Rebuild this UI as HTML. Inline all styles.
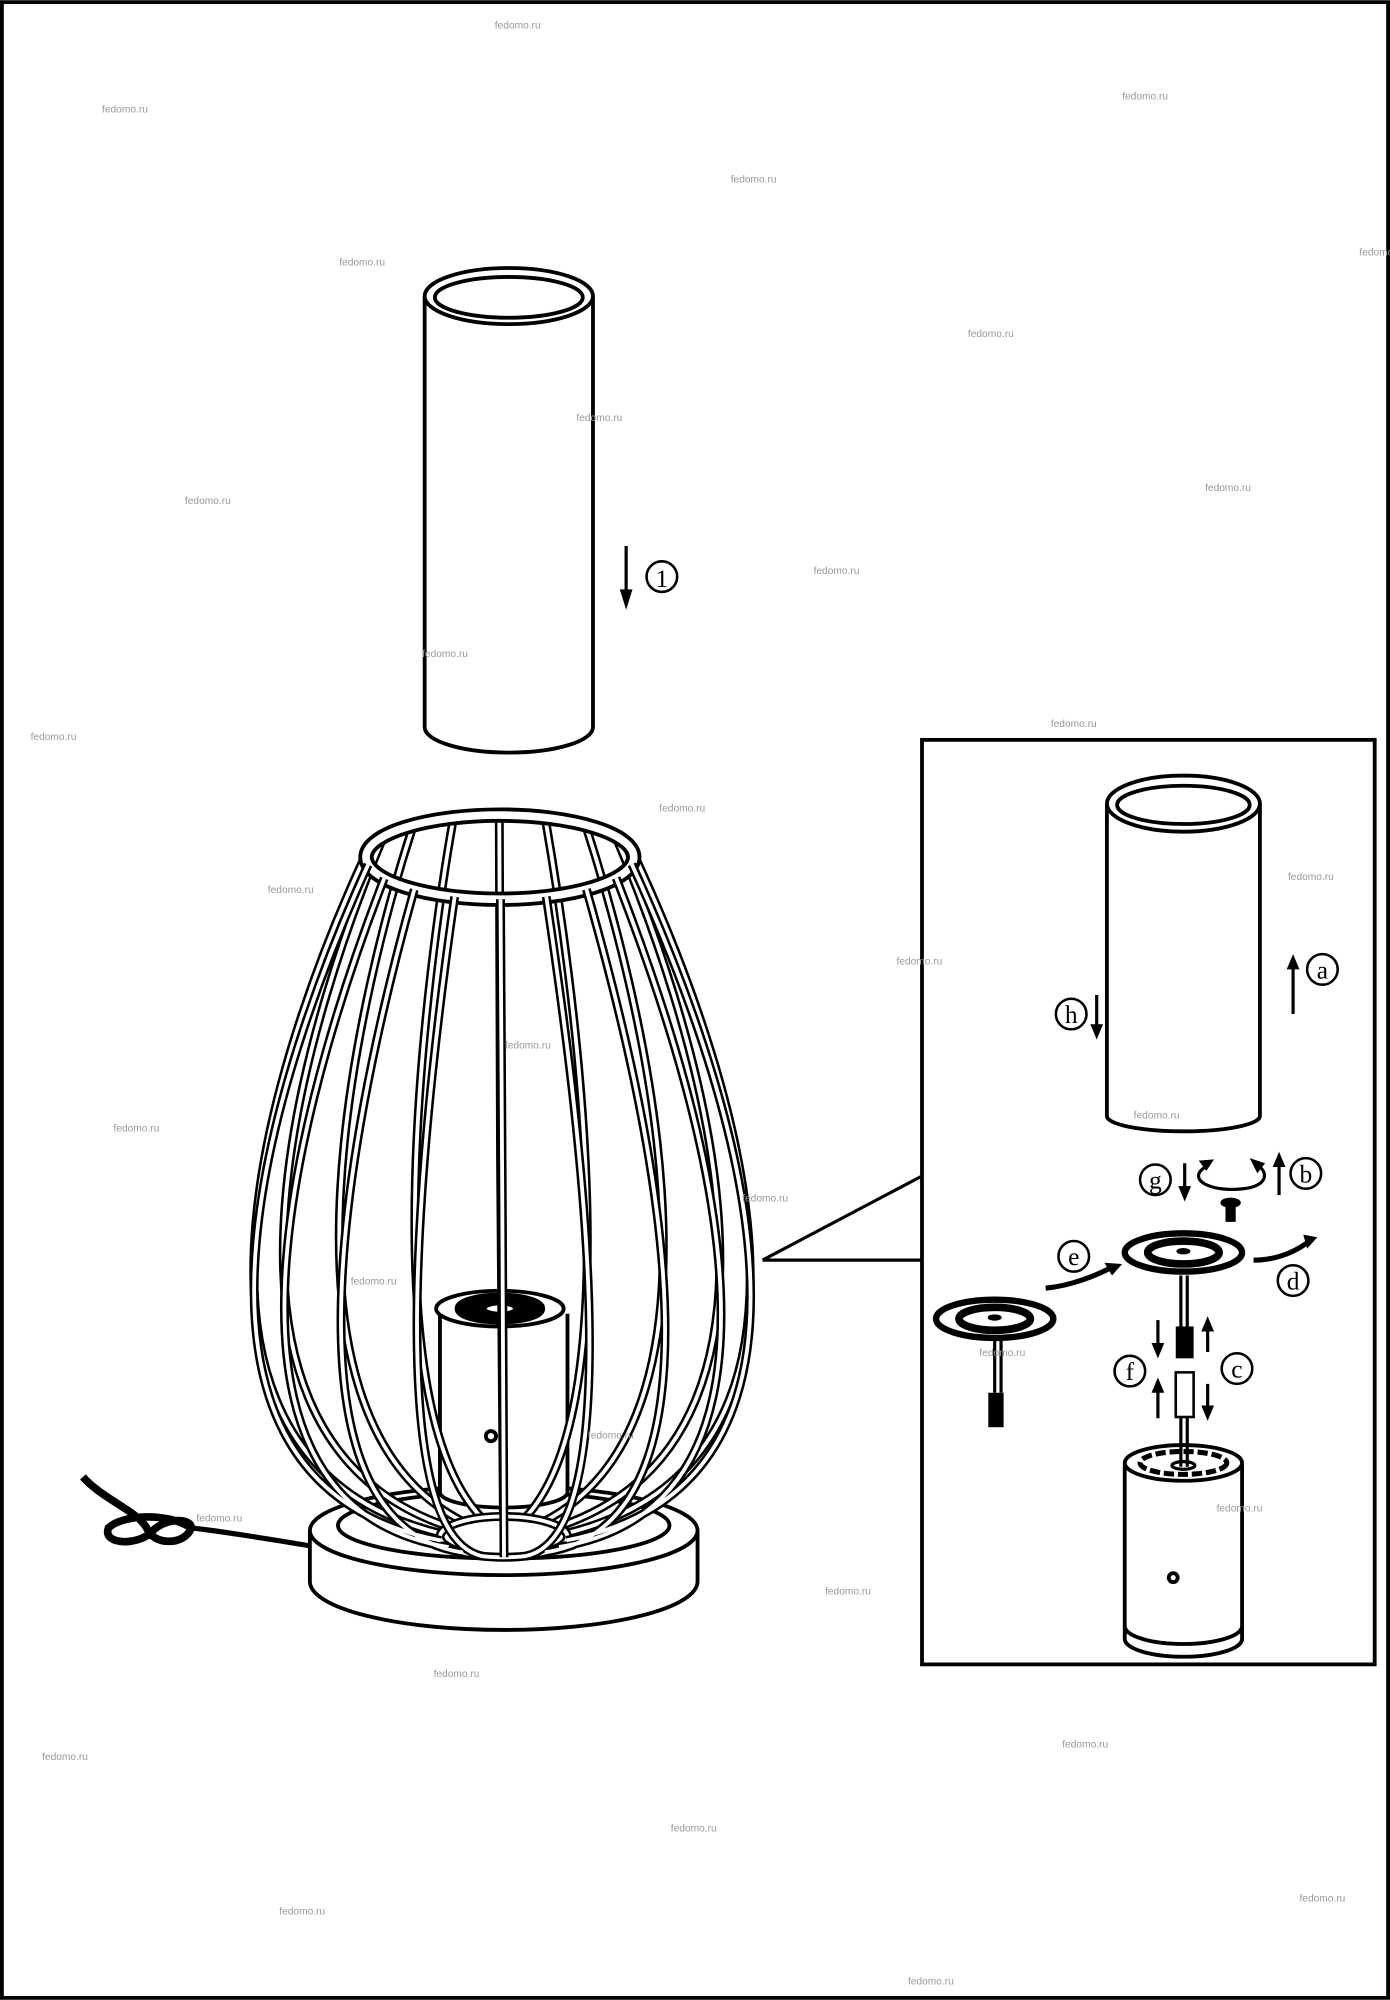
<!DOCTYPE html>
<html><head><meta charset="utf-8"><style>
html,body{margin:0;padding:0;background:#fff}
svg{display:block}
.wm{font-family:"Liberation Sans",sans-serif;font-size:8px;fill:#999}
.lb{font-family:"Liberation Serif",serif;font-size:20px;text-anchor:middle}
</style></head><body>
<svg id="s" width="1390" height="2000" viewBox="0 0 1090 1568" xmlns="http://www.w3.org/2000/svg">
<rect x="1.5" y="1.5" width="1087" height="1565" fill="#fff" stroke="#000" stroke-width="3"/>
<g fill="none" stroke="#000" stroke-width="3">
<path d="M333 232 V570 A66 20 0 0 0 465 570 V232" fill="#fff"/>
<ellipse cx="399" cy="232" rx="66" ry="22" fill="#fff"/>
<ellipse cx="399" cy="233" rx="58" ry="16"/>
<path d="M491 428 V470" stroke-width="2.5"/>
</g>
<path d="M486 462 L491 478 L496 462Z"/>
<circle cx="519" cy="452" r="12" fill="none" stroke="#000" stroke-width="2"/>
<text x="519" y="460" class="lb" font-size="18">1</text>

<g stroke="#000" stroke-width="3" fill="#fff">
<path d="M243 1200 V1240 A152 38 0 0 0 547 1240 V1200"/>
<ellipse cx="395" cy="1200" rx="152" ry="35"/>
<ellipse cx="395" cy="1196" rx="130" ry="26"/>
</g>
<path d="M243 1212 C200 1205 170 1200 150 1198" stroke="#000" stroke-width="4" fill="none"/>
<path d="M150 1198 C130 1185 95 1188 85 1198 C80 1212 110 1212 120 1200 C130 1190 150 1190 150 1198 C145 1212 120 1212 115 1198 C108 1185 80 1175 65 1158" stroke="#000" stroke-width="6" fill="none"/>
<g stroke="#000" stroke-width="3" fill="#fff">
<path d="M345 1030 V1170 A50 12 0 0 0 445 1170 V1030"/>
<ellipse cx="392" cy="1026" rx="50" ry="14" fill="#fff"/>
<ellipse cx="392" cy="1026" rx="32" ry="9" stroke-width="7" fill="#000"/>
<ellipse cx="392" cy="1026" rx="12" ry="4" fill="#fff"/>
<circle cx="385" cy="1126" r="4"/>
</g>
<g id="cage"></g>

<path d="M598 988 L723 922" stroke="#000" stroke-width="2.5" fill="none"/>
<path d="M598 988 L723 988" stroke="#000" stroke-width="2.5" fill="none"/>
<rect x="723" y="580" width="355" height="725" fill="#fff" stroke="#000" stroke-width="3"/>
<g fill="#fff" stroke="#000" stroke-width="3">
<path d="M868 630 V875 A60 12 0 0 0 988 875 V630"/>
<ellipse cx="928" cy="630" rx="60" ry="22"/>
<ellipse cx="928" cy="631" rx="52" ry="15"/>
<path d="M882 1148 V1285 A46 14 0 0 0 974 1285 V1148"/>
<path d="M882 1275 A46 14 0 0 0 974 1275" fill="none"/>
<ellipse cx="928" cy="1147" rx="46" ry="14"/>
<circle cx="920" cy="1237" r="3.5"/>
</g>
<g fill="none" stroke="#000" stroke-width="2.5">
<ellipse cx="928" cy="1147" rx="34" ry="9" stroke-dasharray="8 3" stroke-width="4"/>
<ellipse cx="928" cy="1149" rx="9" ry="3"/>
<path d="M926 1000 V1040 M931 1000 V1040 M926 1082 V1150 M931 1082 V1150"/>
<path d="M780 1050 V1092 M785 1050 V1092"/>
</g>
<g stroke="#000">
<ellipse cx="928" cy="982" rx="46" ry="15" fill="#fff" stroke-width="5"/>
<ellipse cx="928" cy="982" rx="28" ry="9" fill="none" stroke-width="6"/>
<ellipse cx="928" cy="981" rx="5" ry="2"/>
<ellipse cx="780" cy="1034" rx="46" ry="15" fill="#fff" stroke-width="5"/>
<ellipse cx="780" cy="1034" rx="28" ry="9" fill="none" stroke-width="6"/>
<ellipse cx="780" cy="1033" rx="5" ry="2"/>
</g>
<rect x="922" y="1040" width="14" height="25"/>
<rect x="922" y="1076" width="14" height="35" fill="#fff" stroke="#000" stroke-width="2"/>
<rect x="775" y="1092" width="12" height="27"/>
<rect x="961" y="944" width="8" height="14"/>
<ellipse cx="965" cy="943" rx="8" ry="4"/>
<g fill="none" stroke="#000" stroke-width="2.5">
<path d="M1014 795 V755"/><path d="M860 780 V810"/>
<path d="M929 912 V938"/><path d="M1003 937 V910"/>
<path d="M945 915 C930 925 950 935 975 932 C995 930 995 918 985 913"/>
<path d="M908 1035 V1060 M908 1112 V1085 M947 1060 V1035 M947 1085 V1110"/>
<path d="M820 1010 C840 1008 860 1000 873 993" stroke-width="4"/>
<path d="M983 988 C1000 988 1015 982 1027 973" stroke-width="4"/>
</g>
<g>
<path d="M1009 760 L1014 748 L1019 760Z"/><path d="M855 803 L860 815 L865 803Z"/>
<path d="M924 930 L929 942 L934 930Z"/><path d="M998 915 L1003 903 L1008 915Z"/>
<path d="M940 910 L952 909 L946 918Z"/><path d="M980 908 L992 912 L986 920Z"/>
<path d="M903 1053 L908 1065 L913 1053Z"/><path d="M903 1092 L908 1080 L913 1092Z"/>
<path d="M942 1044 L947 1032 L952 1044Z"/><path d="M942 1102 L947 1114 L952 1102Z"/>
<path d="M866 990 L880 991 L872 1000Z"/><path d="M1022 968 L1033 970 L1025 979Z"/>
</g>
<g fill="#fff" stroke="#000" stroke-width="2">
<circle cx="1037" cy="760" r="12"/><circle cx="840" cy="795" r="12"/>
<circle cx="906" cy="925" r="12"/><circle cx="1024" cy="920" r="12"/>
<circle cx="842" cy="985" r="12"/><circle cx="1014" cy="1004" r="12"/>
<circle cx="886" cy="1075" r="12"/><circle cx="970" cy="1073" r="12"/>
</g>
<text class="lb" x="1037" y="767">a</text><text class="lb" x="840" y="802">h</text>
<text class="lb" x="906" y="932">g</text><text class="lb" x="1024" y="927">b</text>
<text class="lb" x="842" y="992">e</text><text class="lb" x="1014" y="1011">d</text>
<text class="lb" x="886" y="1082">f</text><text class="lb" x="970" y="1080">c</text>

<g class="wm">
<text x="388" y="22">fedomo.ru</text><text x="80" y="88">fedomo.ru</text><text x="880" y="78">fedomo.ru</text>
<text x="573" y="143">fedomo.ru</text><text x="266" y="208">fedomo.ru</text><text x="1066" y="200">fedomo.ru</text>
<text x="759" y="264">fedomo.ru</text><text x="452" y="330">fedomo.ru</text><text x="145" y="395">fedomo.ru</text>
<text x="945" y="385">fedomo.ru</text><text x="638" y="450">fedomo.ru</text><text x="331" y="515">fedomo.ru</text>
<text x="24" y="580">fedomo.ru</text><text x="824" y="570">fedomo.ru</text><text x="517" y="636">fedomo.ru</text>
<text x="210" y="700">fedomo.ru</text><text x="1010" y="690">fedomo.ru</text><text x="703" y="756">fedomo.ru</text>
<text x="396" y="822">fedomo.ru</text><text x="89" y="887">fedomo.ru</text><text x="889" y="877">fedomo.ru</text>
<text x="582" y="942">fedomo.ru</text><text x="275" y="1007">fedomo.ru</text><text x="768" y="1063">fedomo.ru</text>
<text x="461" y="1128">fedomo.ru</text><text x="154" y="1193">fedomo.ru</text><text x="954" y="1185">fedomo.ru</text>
<text x="647" y="1250">fedomo.ru</text><text x="340" y="1315">fedomo.ru</text><text x="33" y="1380">fedomo.ru</text>
<text x="833" y="1370">fedomo.ru</text><text x="526" y="1436">fedomo.ru</text><text x="219" y="1501">fedomo.ru</text>
<text x="1019" y="1491">fedomo.ru</text><text x="712" y="1556">fedomo.ru</text>
</g>
</svg>
<script>
(function(){
var g=document.getElementById('cage'),ns='http://www.w3.org/2000/svg',back='',front='';
function P(c,s){return 'M'+(392+105*c)+' '+(672+33*s)+' C'+(392+165*c)+' '+(800+45*s)+' '+(395+305*c)+' '+(1150+55*s)+' '+(395+50*c)+' '+(1205+16*s);}
for(var i=0;i<18;i++){var a=i/18*2*Math.PI+0.17,c=Math.cos(a),s=Math.sin(a);if(s<0)back+=P(c,s);else front+=P(c,s);}
function add(d,w,col){var p=document.createElementNS(ns,'path');p.setAttribute('d',d);p.setAttribute('fill','none');p.setAttribute('stroke',col);p.setAttribute('stroke-width',w);g.appendChild(p);}
add(back,7,'#000');add(back,3,'#fff');
var r=document.createElementNS(ns,'g');r.innerHTML='<ellipse cx="392" cy="672" rx="105" ry="33" fill="none" stroke="#000" stroke-width="12"/><ellipse cx="392" cy="672" rx="105" ry="33" fill="none" stroke="#fff" stroke-width="6"/><ellipse cx="395" cy="1205" rx="50" ry="16" fill="none" stroke="#000" stroke-width="7"/><ellipse cx="395" cy="1205" rx="50" ry="16" fill="none" stroke="#fff" stroke-width="3"/>';g.appendChild(r);
add(front,7,'#000');add(front,3,'#fff');
})();
</script>
</body></html>
